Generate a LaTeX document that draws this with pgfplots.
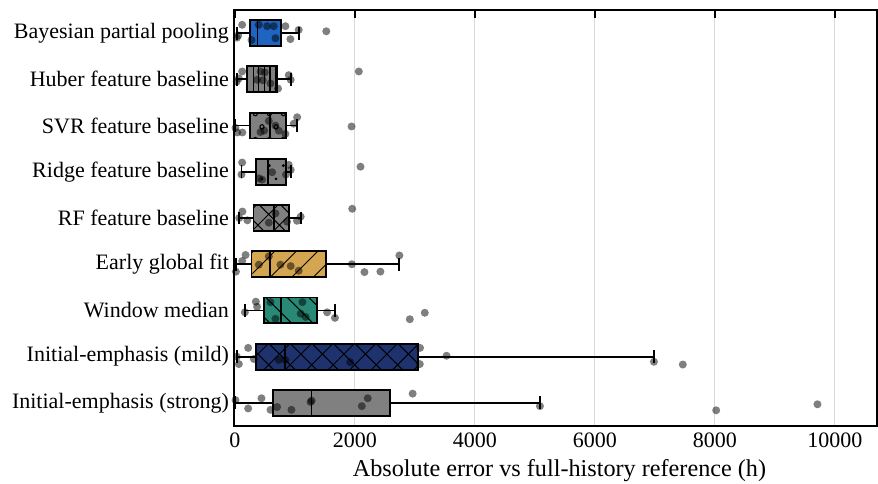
\documentclass[border=0pt]{standalone}
\usepackage{pgfplots}
\pgfplotsset{compat=1.18}
\usepgfplotslibrary{statistics}
\usetikzlibrary{patterns,patterns.meta,calc}
\usepackage{fontspec}
\setmainfont{Liberation Serif}

\definecolor{bayes}{RGB}{30,100,192}
\definecolor{boxgray}{RGB}{128,128,128}
\definecolor{early}{RGB}{212,166,82}
\definecolor{window}{RGB}{40,138,118}
\definecolor{mild}{RGB}{30,50,110}

\pgfdeclarepatternformonly{ocirc}{\pgfqpoint{0pt}{0pt}}{\pgfqpoint{7pt}{13pt}}{\pgfqpoint{7pt}{13pt}}{%
  \pgfsetlinewidth{0.55pt}%
  \pgfpathcircle{\pgfqpoint{1.75pt}{3.25pt}}{1.1pt}%
  \pgfpathcircle{\pgfqpoint{5.25pt}{9.75pt}}{1.1pt}%
  \pgfusepath{stroke}}
\pgfdeclarepatternformonly{sdots}{\pgfqpoint{0pt}{0pt}}{\pgfqpoint{7pt}{13pt}}{\pgfqpoint{7pt}{13pt}}{%
  \pgfpathcircle{\pgfqpoint{1.75pt}{3.25pt}}{0.8pt}%
  \pgfpathcircle{\pgfqpoint{5.25pt}{9.75pt}}{0.8pt}%
  \pgfusepath{fill}}

\pgfplotsset{bx/.style={solid, draw=black, line width=0.9pt, mark=none,
  boxplot/draw direction=x, boxplot/box extend=0.56, boxplot/whisker extend=0.28}}

\pgfplotstableread{
x y
121 -0.18
55 0.05
399 -0.18
537 -0.15
648 -0.15
676 0.11
277 0.15
842 -0.15
925 0.13
1063 -0.07
1523 -0.04
33 0.10
121 0.83
66 0.98
427 0.83
498 0.85
593 1.09
719 1.20
897 0.91
930 1.01
370 1.01
465 1.02
2065 0.83
30 1.05
38 2.15
125 2.15
427 2.14
487 2.11
676 2.00
731 2.11
842 2.18
980 1.96
1038 1.82
1944 2.02
10 2.05
565 1.90
121 2.80
110 3.06
399 3.14
453 3.17
620 3.01
897 2.85
930 2.96
852 3.06
2093 2.89
125 3.86
208 4.05
676 3.90
565 4.10
869 4.08
1035 4.06
1096 3.97
1955 3.80
72 4.00
178 4.80
121 4.93
17 5.16
399 5.01
565 4.83
759 5.01
930 5.04
1063 5.14
1949 5.00
2159 5.17
2425 5.16
2741 4.81
166 6.04
349 5.81
370 5.92
593 5.82
676 6.18
1125 5.82
1096 6.07
1179 6.14
1537 6.04
1667 6.16
2915 6.19
3164 6.05
221 6.81
66 7.16
33 7.00
316 7.05
731 7.07
842 7.07
1922 7.12
3085 6.81
3081 7.16
3527 6.98
6983 7.11
7464 7.17
10 7.94
221 8.12
443 7.90
593 8.15
703 8.09
942 8.15
1279 7.95
1260 7.98
2115 8.07
2214 7.90
2962 7.80
5083 8.07
8020 8.16
9708 8.03
}\jitter

\begin{document}
\begin{tikzpicture}
\begin{axis}[name=ax, scale only axis, width=321.5pt, height=208pt,
  xmin=-15, xmax=10700, ymin=-0.5, ymax=8.5, y dir=reverse,
  ytick={0,...,8},
  yticklabels={Bayesian partial pooling, Huber feature baseline, SVR feature baseline, Ridge feature baseline, RF feature baseline, Early global fit, Window median, Initial-emphasis (mild), Initial-emphasis (strong)},
  xtick={0,2000,4000,6000,8000,10000},
  scaled x ticks=false,
  /pgf/number format/1000 sep={},
  /pgf/number format/assume math mode=true,
  tick label style={font=\fontsize{11}{13}\selectfont},
  label style={font=\fontsize{12.1}{14}\selectfont},
  xlabel={Absolute error vs full-history reference (h)},
  xlabel style={yshift=1pt, xshift=2pt},
  xmajorgrids, grid style={black!15, line width=0.5pt},
  axis line style={line width=1pt},
  ytick style={draw=none},
  xtick style={draw=none},
  tick align=inside, major tick length=4pt,
  yticklabel style={xshift=1pt},
  clip=true,
]
\addplot[bx, boxplot/every box/.style={fill=bayes},
  boxplot prepared={draw position=0, lower whisker=33, lower quartile=254, median=377, upper quartile=764, upper whisker=1068}] coordinates {};
\addplot[bx, boxplot/every box/.style={fill=boxgray, postaction={pattern={Lines[angle=90,distance=2.75pt,line width=0.5pt]}, pattern color=black}},
  boxplot prepared={draw position=1, lower whisker=30, lower quartile=200, median=590, upper quartile=698, upper whisker=930}] coordinates {};
\addplot[bx, boxplot/every box/.style={fill=boxgray, postaction={pattern=ocirc, pattern color=black}},
  boxplot prepared={draw position=2, lower whisker=10, lower quartile=254, median=586, upper quartile=852, upper whisker=1041}] coordinates {};
\addplot[bx, boxplot/every box/.style={fill=boxgray, postaction={pattern=sdots, pattern color=black}},
  boxplot prepared={draw position=3, lower whisker=110, lower quartile=349, median=553, upper quartile=847, upper whisker=930}] coordinates {};
\addplot[bx, boxplot/every box/.style={fill=boxgray, postaction={pattern={Hatch[angle=45,distance=7.6pt,line width=0.5pt]}, pattern color=black}},
  boxplot prepared={draw position=4, lower whisker=72, lower quartile=310, median=653, upper quartile=902, upper whisker=1096}] coordinates {};
\addplot[bx, boxplot/every box/.style={fill=early, postaction={pattern={Lines[angle=45,distance=7.6pt,line width=0.5pt]}, pattern color=black}},
  boxplot prepared={draw position=5, lower whisker=17, lower quartile=277, median=586, upper quartile=1512, upper whisker=2741}] coordinates {};
\addplot[bx, boxplot/every box/.style={fill=window, postaction={pattern={Lines[angle=-45,distance=7.6pt,line width=0.5pt]}, pattern color=black}},
  boxplot prepared={draw position=6, lower whisker=166, lower quartile=487, median=764, upper quartile=1362, upper whisker=1667}] coordinates {};
\addplot[bx, boxplot/every box/.style={fill=mild, postaction={pattern={Hatch[angle=45,distance=7.6pt,line width=0.5pt]}, pattern color=black}},
  boxplot prepared={draw position=7, lower whisker=33, lower quartile=346, median=840, upper quartile=3057, upper whisker=6983}] coordinates {};
\addplot[bx, boxplot/every box/.style={fill=boxgray},
  boxplot prepared={draw position=8, lower whisker=10, lower quartile=641, median=1275, upper quartile=2591, upper whisker=5083}] coordinates {};
\addplot[only marks, mark=*, mark size=2pt, mark options={draw opacity=0, fill=black, fill opacity=0.5}] table[x=x, y=y] {\jitter};
\end{axis}
\begin{axis}[scale only axis, width=321.5pt, height=208pt,
  xmin=-15, xmax=10700, ymin=0, ymax=1,
  hide y axis,
  xtick={0,2000,4000,6000,8000,10000},
  xtick pos=right, xticklabel pos=right, xticklabels={},
  scaled x ticks=false,
  axis line style={line width=1pt},
  xtick style={draw=black, line width=0.8pt},
  tick align=inside, major tick length=4pt]
\end{axis}
\pgfresetboundingbox
\path ($(ax.south west)+(-117pt,-28.5pt)$) rectangle ($(ax.north east)+(0.5pt,5pt)$);
\end{tikzpicture}
\end{document}
